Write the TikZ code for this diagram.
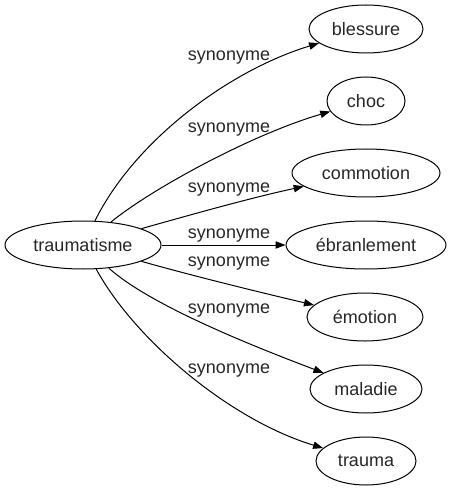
\documentclass[tikz,border=0pt]{standalone}
\usepackage{fontspec}
\setmainfont{Liberation Sans}
\usetikzlibrary{shapes.geometric,arrows.meta}
\begin{document}
\begin{tikzpicture}[x=0.75pt,y=-0.75pt,
  word/.style={ellipse,draw,line width=0.75pt,inner sep=0pt,minimum height=36pt,font=\fontsize{13.5pt}{16pt}\selectfont,text=black!85},
  lbl/.style={inner sep=0pt,font=\fontsize{13.5pt}{16pt}\selectfont,text=black!85},
  syn/.style={line width=0.75pt,-{Triangle[length=7.5pt,width=5.5pt]}}]
\useasboundingbox (0,0) rectangle (451,491);
\node[word,minimum width=117pt] (T) at (83,245) {traumatisme};
\node[word,minimum width=85.5pt] (b) at (366,29) {blessure};
\node[word,minimum width=58.5pt] (c) at (366,101) {choc};
\node[word,minimum width=111pt] (co) at (366,173) {commotion};
\node[word,minimum width=120pt] (e) at (366,245) {ébranlement};
\node[word,minimum width=87pt] (em) at (365,317) {émotion};
\node[word,minimum width=84pt] (m) at (366,389) {maladie};
\node[word,minimum width=75pt] (tr) at (366,461) {trauma};
\draw[syn] (T) .. controls (135,140) and (230,70) .. (b);
\draw[syn] (T) .. controls (150,190) and (250,135) .. (c);
\draw[syn] (T) .. controls (190,215) and (250,198) .. (co);
\draw[syn] (T) -- (e);
\draw[syn] (T) .. controls (190,275) and (250,290) .. (em);
\draw[syn] (T) .. controls (150,305) and (250,345) .. (m);
\draw[syn] (T) .. controls (135,340) and (230,420) .. (tr);
\node[lbl] (l1) at (229,58) {synonyme};
\node[lbl] (l2) at (229,130) {synonyme};
\node[lbl] (l3) at (229,190) {synonyme};
\node[lbl] (l4) at (229,236) {synonyme};
\node[lbl] (l5) at (229,264) {synonyme};
\node[lbl] (l6) at (229,311) {synonyme};
\node[lbl] (l7) at (229,371) {synonyme};
\end{tikzpicture}
\end{document}
